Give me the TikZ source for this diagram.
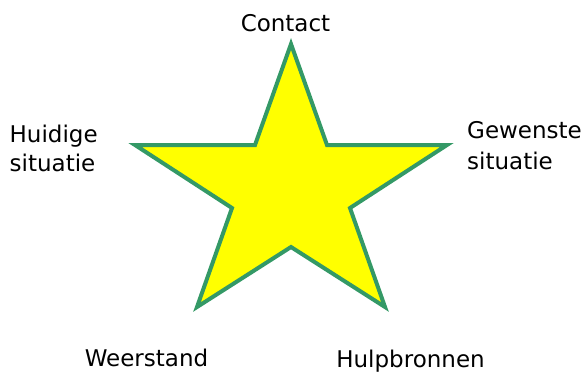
\documentclass[tikz,border=0pt]{standalone}
\usepackage{fontspec}
\setmainfont{DejaVu Sans}
\definecolor{stargreen}{RGB}{52,153,102}
\definecolor{staryellow}{RGB}{255,255,0}
\begin{document}
\begin{tikzpicture}[x=1pt,y=-1pt,
  lbl/.style={font=\fontsize{23}{30}\selectfont, inner sep=0pt, text=black}]
\useasboundingbox (0,0) rectangle (586,372);
\coordinate (t) at (291,44);
\coordinate (i1) at (327,145);
\coordinate (r) at (447,145);
\coordinate (i2) at (350,208);
\coordinate (br) at (385,307);
\coordinate (i3) at (291,247);
\coordinate (bl) at (197,307);
\coordinate (i4) at (232,208);
\coordinate (l) at (135,145);
\coordinate (i5) at (255,145);
\draw[stargreen, fill=staryellow, line width=4pt, line join=miter]
  (t) -- (i1) -- (r) -- (i2) -- (br) -- (i3) -- (bl) -- (i4) -- (l) -- (i5) -- cycle;
\node[lbl, anchor=base] (contact) at (285.5,31) {Contact};
\node[lbl, anchor=base west] (huid1) at (9.5,142) {Huidige};
\node[lbl, anchor=base west] (huid2) at (9.5,171) {situatie};
\node[lbl, anchor=base west] (gew1) at (467,138) {Gewenste};
\node[lbl, anchor=base west] (gew2) at (467,169) {situatie};
\node[lbl, anchor=base] (weer) at (146.5,366) {Weerstand};
\node[lbl, anchor=base] (hulp) at (410.5,367) {Hulpbronnen};
\end{tikzpicture}
\end{document}
